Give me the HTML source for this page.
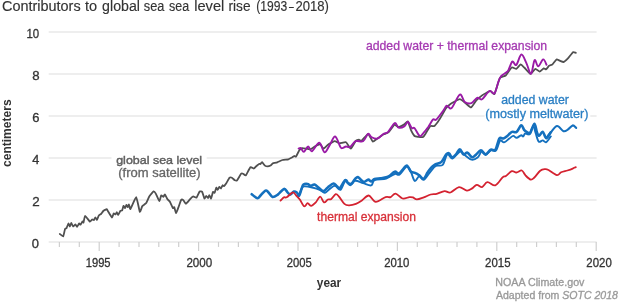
<!DOCTYPE html>
<html><head><meta charset="utf-8"><style>
html,body{margin:0;padding:0;background:#fff;}
svg{display:block;font-family:"Liberation Sans",sans-serif;will-change:transform;}
</style></head><body>
<svg width="620" height="303" viewBox="0 0 620 303">
<line x1="48.7" y1="241.9" x2="596.6" y2="241.9" stroke="#e8e8e8" stroke-width="1.5"/>
<line x1="48.7" y1="199.9" x2="596.6" y2="199.9" stroke="#e8e8e8" stroke-width="1.5"/>
<line x1="48.7" y1="157.9" x2="596.6" y2="157.9" stroke="#e8e8e8" stroke-width="1.5"/>
<line x1="48.7" y1="115.9" x2="596.6" y2="115.9" stroke="#e8e8e8" stroke-width="1.5"/>
<line x1="48.7" y1="73.9" x2="596.6" y2="73.9" stroke="#e8e8e8" stroke-width="1.5"/>
<line x1="48.7" y1="31.9" x2="596.6" y2="31.9" stroke="#e8e8e8" stroke-width="1.5"/>
<line x1="59.4" y1="241.9" x2="59.4" y2="246.9" stroke="#cfcfcf" stroke-width="1.2"/>
<line x1="79.3" y1="241.9" x2="79.3" y2="246.9" stroke="#cfcfcf" stroke-width="1.2"/>
<line x1="99.2" y1="241.9" x2="99.2" y2="250.9" stroke="#cfcfcf" stroke-width="1.2"/>
<line x1="119.1" y1="241.9" x2="119.1" y2="246.9" stroke="#cfcfcf" stroke-width="1.2"/>
<line x1="139.0" y1="241.9" x2="139.0" y2="246.9" stroke="#cfcfcf" stroke-width="1.2"/>
<line x1="158.8" y1="241.9" x2="158.8" y2="246.9" stroke="#cfcfcf" stroke-width="1.2"/>
<line x1="178.7" y1="241.9" x2="178.7" y2="246.9" stroke="#cfcfcf" stroke-width="1.2"/>
<line x1="198.6" y1="241.9" x2="198.6" y2="250.9" stroke="#cfcfcf" stroke-width="1.2"/>
<line x1="218.5" y1="241.9" x2="218.5" y2="246.9" stroke="#cfcfcf" stroke-width="1.2"/>
<line x1="238.4" y1="241.9" x2="238.4" y2="246.9" stroke="#cfcfcf" stroke-width="1.2"/>
<line x1="258.2" y1="241.9" x2="258.2" y2="246.9" stroke="#cfcfcf" stroke-width="1.2"/>
<line x1="278.1" y1="241.9" x2="278.1" y2="246.9" stroke="#cfcfcf" stroke-width="1.2"/>
<line x1="298.0" y1="241.9" x2="298.0" y2="250.9" stroke="#cfcfcf" stroke-width="1.2"/>
<line x1="317.9" y1="241.9" x2="317.9" y2="246.9" stroke="#cfcfcf" stroke-width="1.2"/>
<line x1="337.8" y1="241.9" x2="337.8" y2="246.9" stroke="#cfcfcf" stroke-width="1.2"/>
<line x1="357.6" y1="241.9" x2="357.6" y2="246.9" stroke="#cfcfcf" stroke-width="1.2"/>
<line x1="377.5" y1="241.9" x2="377.5" y2="246.9" stroke="#cfcfcf" stroke-width="1.2"/>
<line x1="397.4" y1="241.9" x2="397.4" y2="250.9" stroke="#cfcfcf" stroke-width="1.2"/>
<line x1="417.3" y1="241.9" x2="417.3" y2="246.9" stroke="#cfcfcf" stroke-width="1.2"/>
<line x1="437.2" y1="241.9" x2="437.2" y2="246.9" stroke="#cfcfcf" stroke-width="1.2"/>
<line x1="457.0" y1="241.9" x2="457.0" y2="246.9" stroke="#cfcfcf" stroke-width="1.2"/>
<line x1="476.9" y1="241.9" x2="476.9" y2="246.9" stroke="#cfcfcf" stroke-width="1.2"/>
<line x1="496.8" y1="241.9" x2="496.8" y2="250.9" stroke="#cfcfcf" stroke-width="1.2"/>
<line x1="516.7" y1="241.9" x2="516.7" y2="246.9" stroke="#cfcfcf" stroke-width="1.2"/>
<line x1="536.6" y1="241.9" x2="536.6" y2="246.9" stroke="#cfcfcf" stroke-width="1.2"/>
<line x1="556.4" y1="241.9" x2="556.4" y2="246.9" stroke="#cfcfcf" stroke-width="1.2"/>
<line x1="576.3" y1="241.9" x2="576.3" y2="246.9" stroke="#cfcfcf" stroke-width="1.2"/>
<line x1="596.2" y1="241.9" x2="596.2" y2="250.9" stroke="#cfcfcf" stroke-width="1.2"/>
<rect x="111.5" y="150" width="95.2" height="30" fill="#fff"/>
<rect x="484.6" y="93" width="105.7" height="28" fill="#fff"/>
<path d="M59.8,233.9C60.1,234.1 62.8,236.7 63.2,236.3C63.6,235.9 64.8,229.5 65.1,228.9C65.4,228.3 66.4,228.4 66.6,228.0C66.8,227.6 68.2,223.6 68.4,223.5C68.6,223.4 69.7,226.5 69.9,226.5C70.1,226.5 71.1,222.9 71.3,222.9C71.5,222.9 72.8,226.4 73.1,226.5C73.4,226.6 75.2,224.4 75.5,224.4C75.8,224.4 76.7,227.0 77.0,226.9C77.3,226.8 78.8,223.7 79.1,223.5C79.4,223.3 80.2,224.9 80.5,224.7C80.8,224.5 82.3,221.6 82.5,221.4C82.7,221.2 83.3,222.9 83.5,222.5C83.7,222.1 84.6,215.9 85.1,215.8C85.6,215.7 89.4,221.4 89.9,221.7C90.4,222.0 91.8,219.6 92.1,219.5C92.4,219.4 93.7,220.2 93.9,220.0C94.1,219.8 95.2,217.3 95.4,217.3C95.6,217.3 96.6,220.1 96.9,220.0C97.2,219.9 98.5,215.9 98.8,215.5C99.1,215.1 100.7,214.3 101.0,214.0C101.3,213.7 102.9,211.4 103.3,211.0C103.7,210.6 106.4,209.1 106.7,209.1C107.0,209.1 107.3,210.2 107.7,210.8C108.1,211.4 111.5,217.3 111.9,217.5C112.4,217.7 113.4,213.7 113.7,213.5C114.0,213.3 115.3,214.5 115.5,214.4C115.7,214.3 116.6,212.1 116.8,212.1C117.0,212.1 117.8,215.1 118.1,215.0C118.4,214.9 120.1,211.2 120.4,210.8C120.7,210.4 122.0,210.7 122.2,210.3C122.4,209.9 123.3,206.1 123.5,205.9C123.7,205.7 124.8,208.2 125.0,208.1C125.2,208.0 126.2,204.9 126.4,204.8C126.6,204.7 127.5,207.2 127.7,207.2C127.9,207.2 128.8,204.4 129.0,204.5C129.2,204.6 129.9,209.5 130.4,209.0C130.9,208.5 135.5,197.0 136.2,197.2C136.9,197.4 139.4,211.0 139.8,211.7C140.2,212.4 141.9,206.8 142.2,206.3C142.5,205.8 143.7,205.1 144.0,204.8C144.3,204.5 146.0,203.3 146.4,202.7C146.8,202.1 148.9,197.1 149.4,196.3C149.9,195.5 153.1,191.6 153.6,191.4C154.1,191.2 155.4,192.9 155.8,193.6C156.2,194.3 159.0,201.1 159.4,201.2C159.8,201.3 160.9,195.7 161.2,195.4C161.5,195.1 163.1,196.9 163.4,196.8C163.7,196.7 164.6,194.3 164.9,194.5C165.2,194.7 167.2,198.9 167.6,199.4C168.0,199.9 169.5,201.0 169.9,201.7C170.3,202.4 172.7,207.7 173.0,208.1C173.3,208.5 174.1,206.8 174.3,207.2C174.5,207.6 175.8,213.2 176.1,213.2C176.4,213.2 178.1,208.2 178.5,207.2C178.9,206.2 180.8,200.4 181.2,199.9C181.6,199.4 182.9,199.8 183.3,200.1C183.7,200.4 185.4,203.9 185.9,203.8C186.4,203.7 189.4,200.0 189.9,199.4C190.4,198.8 192.7,196.5 193.2,196.4C193.7,196.3 196.0,198.1 196.5,197.7C197.0,197.3 199.2,191.9 199.6,191.5C200.0,191.1 201.8,191.4 202.2,191.9C202.6,192.4 204.1,198.2 204.4,198.5C204.7,198.8 205.9,195.9 206.2,195.9C206.5,195.9 207.8,198.2 208.0,198.1C208.2,198.0 209.1,195.1 209.3,195.1C209.5,195.1 210.8,198.7 211.1,198.5C211.4,198.3 212.7,192.3 213.0,191.9C213.3,191.5 214.4,193.1 214.6,192.8C214.8,192.5 216.1,187.8 216.3,187.6C216.5,187.4 217.5,189.9 217.7,189.8C217.9,189.7 219.2,187.0 219.4,186.9C219.6,186.8 220.8,188.6 221.0,188.5C221.2,188.4 222.4,185.5 222.6,185.3C222.8,185.1 223.6,186.4 223.9,186.2C224.2,186.0 225.9,183.8 226.3,183.2C226.7,182.6 229.2,178.1 229.6,177.7C230.0,177.3 231.5,177.5 231.9,177.7C232.3,177.9 234.4,180.1 234.8,180.3C235.2,180.5 236.6,180.8 237.1,180.3C237.6,179.8 240.7,174.2 241.2,173.7C241.7,173.2 242.9,173.7 243.2,173.8C243.5,173.9 245.3,175.9 245.8,175.4C246.3,174.9 249.8,167.8 250.4,167.3C251.0,166.8 253.5,168.6 253.9,168.5C254.3,168.4 255.8,166.5 256.2,166.2C256.6,165.9 258.8,164.1 259.1,163.9C259.4,163.7 260.3,164.1 260.5,164.0C260.7,163.9 261.7,162.0 262.0,162.1C262.3,162.2 264.5,165.3 264.9,165.6C265.3,165.9 267.3,166.4 267.7,166.4C268.1,166.4 270.2,165.7 270.6,165.5C271.0,165.3 272.3,163.6 272.8,163.4C273.3,163.2 276.6,162.6 277.3,162.3C278.0,162.0 281.7,160.2 282.5,160.0C283.3,159.8 287.7,159.5 288.4,159.3C289.1,159.1 291.6,157.7 292.0,157.5C292.4,157.3 293.9,156.1 294.2,156.0C294.5,155.9 295.6,157.0 296.0,156.6C296.4,156.2 298.5,151.6 298.9,151.0C299.3,150.4 300.7,148.8 301.0,148.6C301.3,148.4 301.9,148.1 302.3,148.1C302.7,148.1 305.4,148.5 306.0,148.6C306.6,148.7 310.1,149.3 310.8,149.1C311.5,148.9 314.9,146.4 315.6,146.0C316.3,145.6 319.7,144.2 320.3,144.4C320.9,144.6 322.9,148.6 323.5,148.6C324.1,148.6 326.9,145.5 327.7,144.9C328.5,144.3 333.7,141.3 334.6,141.2C335.5,141.1 338.4,143.2 339.3,143.3C340.2,143.4 345.1,141.9 346.0,142.3C346.9,142.7 350.1,148.7 350.8,148.6C351.5,148.5 355.1,141.6 355.7,140.9C356.3,140.2 358.6,139.6 359.0,139.6C359.4,139.6 360.8,141.3 361.5,140.9C362.2,140.5 367.3,133.8 368.1,133.8C368.9,133.8 372.0,141.1 372.7,141.5C373.4,141.9 376.3,139.2 377.1,138.7C377.9,138.2 382.8,134.8 383.7,134.3C384.6,133.8 387.9,132.8 388.7,132.1C389.5,131.4 393.7,125.1 394.4,124.7C395.1,124.3 397.9,127.2 398.6,127.2C399.3,127.2 403.6,124.8 404.3,124.4C405.0,124.0 407.4,121.0 407.9,121.5C408.4,122.0 410.7,129.6 411.2,130.7C411.7,131.8 414.0,135.5 414.5,136.0C415.0,136.5 417.9,136.8 418.5,136.9C419.1,137.0 422.6,137.2 423.1,136.9C423.6,136.6 425.2,134.2 425.7,133.4C426.2,132.6 429.7,126.6 430.3,126.1C430.9,125.6 433.8,126.4 434.3,126.1C434.8,125.8 437.0,123.0 437.6,122.2C438.2,121.4 441.6,116.0 442.2,114.9C442.8,113.8 445.6,108.8 446.2,108.0C446.8,107.2 449.8,104.4 450.8,103.7C451.8,103.0 458.7,99.2 459.8,99.2C460.9,99.2 464.8,102.6 465.6,103.2C466.4,103.8 470.2,107.6 471.0,107.4C471.8,107.2 475.5,101.3 476.3,100.4C477.1,99.5 481.4,96.0 482.1,95.4C482.8,94.8 485.6,93.3 486.2,93.0C486.8,92.7 489.7,90.9 490.3,91.0C490.9,91.1 493.8,94.9 494.5,93.9C495.2,92.9 499.0,79.5 499.8,78.1C500.6,76.7 504.8,76.3 505.7,75.5C506.6,74.7 510.9,68.0 511.7,67.5C512.5,67.0 515.6,69.1 516.3,68.9C517.0,68.7 520.0,64.5 520.6,64.4C521.2,64.3 524.0,67.3 524.7,68.0C525.4,68.7 529.7,73.7 530.5,73.8C531.3,73.9 534.7,69.0 535.4,68.8C536.1,68.6 539.0,71.6 539.6,71.6C540.2,71.6 543.2,68.6 543.7,68.4C544.2,68.2 545.8,69.5 546.2,69.3C546.6,69.1 548.7,66.0 549.2,65.6C549.7,65.2 552.0,64.8 552.5,64.3C553.0,63.8 556.0,59.7 556.5,59.4C557.0,59.1 559.3,60.5 559.8,60.7C560.3,60.9 563.1,62.1 563.7,62.0C564.3,61.9 567.0,59.4 567.7,58.7C568.4,58.0 572.4,52.6 573.0,52.2C573.6,51.8 575.7,52.8 575.9,52.8" fill="none" stroke="#505050" stroke-width="1.8" stroke-linejoin="round" stroke-linecap="round"/>
<path d="M299.0,195.8C299.4,194.7 300.6,190.6 301.5,189.0C302.4,187.4 302.3,186.7 304.1,186.4C305.9,186.2 309.6,186.9 312.2,187.5C314.8,188.1 317.6,188.9 319.7,189.8C321.8,190.7 323.1,193.0 324.9,192.7C326.7,192.4 328.9,189.2 330.6,188.1C332.3,186.9 333.7,185.5 335.3,185.8C336.9,186.1 338.9,190.5 340.5,189.8C342.1,189.1 343.6,182.1 345.2,181.4C346.8,180.7 348.8,185.5 350.4,185.4C352.0,185.3 352.9,181.2 355.0,180.8C357.1,180.4 360.4,182.3 363.1,183.1C365.8,183.9 369.3,185.9 371.2,185.4C373.1,184.9 372.1,181.3 374.6,180.2C377.1,179.0 382.8,179.5 386.2,178.5C389.6,177.5 392.6,174.7 394.8,174.0C397.0,173.3 397.4,175.8 399.4,174.6C401.4,173.3 405.0,166.9 406.9,166.5C408.8,166.1 409.7,169.9 411.0,172.3C412.3,174.7 413.4,180.3 414.8,181.0C416.2,181.7 417.6,176.6 419.1,176.4C420.6,176.2 421.9,180.5 423.7,179.8C425.5,179.1 428.0,174.6 430.0,172.3C432.0,170.0 433.7,167.2 435.8,166.0C437.9,164.8 440.8,166.7 442.7,164.8C444.6,162.9 445.7,155.5 447.3,154.4C448.9,153.3 450.4,159.0 452.5,158.5C454.6,158.0 458.0,152.1 460.0,151.5C462.0,150.9 462.7,153.7 464.6,155.0C466.5,156.3 469.4,159.2 471.6,159.6C473.8,160.0 475.9,158.9 477.6,157.6C479.3,156.3 480.3,152.1 481.6,151.7C482.9,151.3 484.1,155.2 485.6,155.0C487.1,154.8 489.1,151.2 490.8,150.4C492.6,149.6 494.6,152.1 496.1,150.4C497.7,148.8 498.8,141.8 500.1,140.5C501.4,139.2 502.5,142.7 504.0,142.4C505.5,142.1 507.8,139.6 509.3,138.5C510.9,137.4 512.1,136.0 513.3,135.9C514.5,135.8 515.3,137.9 516.6,137.8C517.9,137.7 520.1,135.4 521.2,135.2C522.3,135.0 522.5,136.8 523.2,136.5C523.9,136.2 524.2,133.9 525.2,133.5C526.2,133.1 527.9,135.3 529.2,134.1C530.6,132.9 532.2,126.7 533.3,126.5C534.4,126.3 534.7,130.4 535.6,132.9C536.5,135.4 537.5,140.3 538.7,141.6C539.9,142.8 541.5,140.3 542.7,140.4C544.0,140.5 544.9,142.8 546.2,142.1C547.6,141.4 550.0,137.3 550.8,136.4" fill="none" stroke="#1470be" stroke-width="1.9" stroke-linejoin="round" stroke-linecap="round"/>
<path d="M251.7,194.2C252.6,194.9 255.9,198.0 257.4,198.2C258.9,198.4 259.2,196.8 260.5,195.5C261.8,194.2 264.1,191.2 265.4,190.6C266.7,190.0 266.9,190.9 268.1,192.0C269.3,193.1 270.9,196.5 272.5,196.9C274.1,197.3 275.9,195.9 277.8,194.6C279.7,193.3 282.4,189.3 284.0,188.9C285.6,188.5 286.6,191.5 287.6,192.4C288.7,193.3 289.3,194.8 290.3,194.6C291.3,194.4 292.7,191.8 293.8,191.5C294.9,191.2 295.9,191.8 296.8,192.5C297.7,193.2 298.2,196.4 299.0,195.8C299.8,195.2 300.8,190.9 301.5,189.0C302.2,187.1 302.5,185.4 303.5,184.6C304.5,183.8 306.2,183.8 307.5,184.0C308.8,184.2 309.8,185.7 311.0,185.8C312.2,185.9 313.1,184.2 314.5,184.6C315.9,185.0 317.6,187.0 319.1,188.1C320.6,189.2 322.2,191.2 323.7,191.0C325.2,190.8 326.7,188.2 328.3,186.9C329.9,185.7 332.1,183.6 333.5,183.5C334.9,183.4 335.9,185.6 337.0,186.4C338.1,187.2 338.5,189.1 339.9,188.1C341.3,187.1 343.8,181.0 345.2,180.2C346.6,179.4 347.1,182.5 348.1,183.1C349.2,183.7 350.4,184.4 351.5,183.7C352.6,183.0 353.9,180.2 355.0,179.1C356.1,178.0 356.8,176.9 357.9,177.1C359.0,177.3 360.3,179.4 361.4,180.2C362.4,181.0 363.0,182.0 364.2,181.9C365.4,181.8 367.1,179.7 368.3,179.6C369.5,179.5 370.1,181.5 371.2,181.4C372.2,181.3 373.1,179.6 374.6,179.1C376.1,178.6 378.5,178.5 380.4,178.2C382.3,177.9 384.7,177.7 386.2,177.3C387.7,176.9 388.2,176.7 389.6,175.8C391.0,174.9 393.2,172.1 394.8,171.7C396.4,171.3 397.5,173.9 398.9,173.5C400.2,173.1 401.6,170.7 402.9,169.4C404.2,168.1 405.5,165.2 406.9,165.6C408.2,166.0 409.6,170.5 411.0,171.7C412.4,172.9 413.6,172.3 415.0,172.9C416.4,173.5 417.7,174.2 419.1,175.2C420.6,176.2 422.3,179.2 423.7,178.7C425.1,178.2 426.4,174.1 427.7,172.3C428.9,170.5 430.0,168.9 431.2,167.7C432.4,166.4 432.9,165.8 434.6,164.8C436.3,163.8 439.6,163.6 441.5,161.9C443.4,160.2 444.9,155.8 446.2,154.4C447.5,153.0 448.2,152.8 449.1,153.3C450.1,153.8 450.8,157.1 451.9,157.3C453.0,157.5 454.7,155.8 456.0,154.4C457.3,153.1 458.6,149.2 459.8,149.2C461.1,149.2 462.2,153.8 463.5,154.4C464.8,155.0 466.1,152.2 467.5,152.7C468.9,153.2 470.7,157.0 472.1,157.3C473.6,157.6 474.7,155.6 476.2,154.4C477.7,153.2 479.3,150.4 480.9,150.4C482.5,150.4 484.0,154.4 485.6,154.3C487.2,154.2 489.2,150.5 490.8,149.7C492.4,148.9 494.0,151.6 495.4,149.7C496.8,147.8 498.1,140.4 499.4,138.5C500.7,136.6 502.1,138.9 503.4,138.5C504.7,138.1 505.9,137.0 507.3,135.9C508.7,134.8 510.3,132.6 511.9,131.9C513.4,131.2 515.0,133.0 516.6,131.9C518.2,130.8 520.0,125.6 521.2,125.3C522.5,125.0 523.1,128.6 524.1,129.8C525.1,131.0 526.5,131.7 527.5,132.3C528.5,132.9 528.9,134.9 530.0,133.5C531.1,132.1 533.2,123.9 534.4,123.7C535.5,123.5 536.1,130.3 536.9,132.3C537.7,134.3 538.2,135.9 539.2,135.8C540.2,135.7 541.5,131.3 542.7,131.7C543.9,132.1 544.9,138.0 546.2,138.1C547.6,138.2 550.0,133.3 550.8,132.3" fill="none" stroke="#1470be" stroke-width="2.6" stroke-linejoin="round" stroke-linecap="round"/>
<path d="M546.2,138.1C547.0,137.1 549.0,134.3 550.8,132.3C552.6,130.3 555.0,126.2 557.1,126.0C559.2,125.8 561.7,130.6 563.5,131.2C565.3,131.8 566.6,130.4 568.1,129.4C569.6,128.4 571.4,125.7 572.7,125.4C574.1,125.2 575.6,127.5 576.2,127.9" fill="none" stroke="#1470be" stroke-width="2.1" stroke-linejoin="round" stroke-linecap="round"/>
<path d="M280.5,200.6C281.1,200.1 283.0,197.9 284.0,197.3C285.0,196.8 285.2,198.1 286.7,197.3C288.2,196.5 291.3,192.6 292.9,192.4C294.5,192.2 295.4,194.8 296.5,196.0C297.6,197.2 298.5,197.8 299.8,199.5C301.1,201.2 302.9,205.7 304.2,206.3C305.5,206.9 306.5,203.3 307.6,203.2C308.7,203.1 309.6,205.9 311.0,205.8C312.4,205.7 314.3,203.9 315.8,202.4C317.3,200.9 318.8,196.6 320.2,196.6C321.6,196.6 322.7,201.9 324.0,202.4C325.3,202.9 326.7,200.1 327.9,199.5C329.1,198.9 330.0,199.9 331.3,199.0C332.6,198.1 334.4,194.6 335.7,194.2C337.0,193.8 337.6,195.0 339.0,196.6C340.4,198.2 342.7,202.4 344.4,203.9C346.1,205.4 347.3,205.3 349.2,205.3C351.1,205.3 353.8,204.7 355.9,203.9C358.0,203.1 359.8,201.9 361.9,200.5C364.0,199.1 366.5,195.3 368.8,195.5C371.1,195.7 372.9,201.6 375.7,201.9C378.5,202.2 383.1,197.9 385.6,197.1C388.1,196.3 389.0,197.7 390.6,197.1C392.2,196.5 393.5,193.4 395.5,193.6C397.5,193.8 400.2,197.9 402.5,198.5C404.8,199.1 407.7,197.3 409.4,197.1C411.1,196.9 411.6,197.0 412.9,197.4C414.1,197.8 415.1,199.4 416.9,199.4C418.7,199.4 421.5,198.2 423.8,197.4C426.1,196.6 428.6,195.1 430.7,194.5C432.8,193.9 434.4,194.5 436.7,193.9C439.0,193.3 442.3,191.3 444.6,191.1C446.9,190.9 448.1,193.2 450.5,192.5C452.9,191.8 456.3,187.4 459.0,187.1C461.7,186.8 464.7,190.4 466.9,190.6C469.1,190.8 470.5,189.4 472.2,188.4C473.9,187.4 475.1,185.0 476.8,184.8C478.5,184.6 480.3,187.5 482.1,187.1C483.9,186.7 485.2,182.5 487.4,182.2C489.6,181.9 492.8,186.2 495.3,185.4C497.8,184.6 500.8,179.0 502.6,177.4C504.4,175.8 504.4,176.9 505.9,175.9C507.4,174.9 510.1,171.8 511.8,171.2C513.5,170.6 514.7,172.6 516.4,172.5C518.1,172.4 520.3,170.0 521.8,170.5C523.3,171.0 524.0,173.9 525.5,175.4C527.0,176.9 529.2,179.2 530.7,179.6C532.2,179.9 532.8,179.0 534.4,177.5C536.0,176.0 538.5,172.1 540.2,170.7C542.0,169.3 543.5,169.3 544.9,169.2C546.3,169.1 546.5,169.0 548.5,170.0C550.5,171.0 554.8,174.7 556.9,175.1C559.0,175.5 559.4,173.1 561.1,172.3C562.9,171.5 565.5,171.1 567.4,170.5C569.3,169.9 571.3,169.2 572.7,168.6C574.1,168.0 575.3,167.3 575.8,167.1" fill="none" stroke="#d42230" stroke-width="1.8" stroke-linejoin="round" stroke-linecap="round"/>
<path d="M298.6,148.6C299.0,148.5 299.9,147.6 300.8,148.1C301.7,148.6 302.7,152.1 303.9,151.8C305.1,151.5 306.9,146.6 308.2,146.5C309.5,146.4 310.0,151.9 311.9,151.3C313.8,150.7 317.2,142.6 319.3,142.8C321.4,143.0 322.8,152.0 324.5,152.3C326.2,152.7 328.0,147.5 329.8,144.9C331.6,142.3 333.3,136.2 335.1,136.5C336.9,136.8 339.2,145.1 340.4,147.0C341.6,148.9 341.6,148.2 342.5,148.1C343.4,148.0 344.8,146.7 346.0,146.5C347.2,146.3 348.4,147.9 350.0,147.0C351.6,146.1 353.5,142.2 355.7,141.2C357.9,140.2 361.0,142.4 363.1,141.2C365.2,140.0 366.7,134.5 368.1,133.8C369.5,133.1 369.9,136.3 371.4,137.1C372.9,137.9 375.1,139.2 377.1,138.7C379.2,138.1 381.9,134.9 383.7,133.8C385.5,132.7 386.0,133.9 387.9,132.1C389.8,130.3 393.0,123.8 394.8,123.1C396.6,122.4 397.0,127.2 398.6,127.7C400.2,128.2 403.1,127.1 404.6,126.1C406.2,125.1 406.7,121.6 407.9,121.9C409.1,122.2 410.8,127.1 411.9,128.1C413.0,129.1 413.2,126.8 414.5,128.1C415.8,129.4 418.3,135.2 419.8,136.0C421.3,136.8 422.3,134.2 423.7,132.7C425.1,131.2 426.8,129.0 428.4,126.8C429.9,124.6 431.7,120.7 433.0,119.5C434.3,118.3 434.6,121.0 436.3,119.5C438.1,118.0 441.8,112.6 443.5,110.3C445.2,108.0 445.4,106.1 446.8,105.7C448.2,105.3 449.4,109.9 451.6,108.1C453.8,106.2 457.6,95.6 459.8,94.6C462.0,93.6 462.9,100.6 464.8,102.0C466.7,103.4 469.3,103.9 471.4,103.2C473.4,102.5 475.3,98.6 477.1,97.9C478.9,97.2 480.0,100.4 482.1,99.2C484.2,98.0 487.4,92.0 489.5,91.0C491.6,90.0 493.0,94.9 494.5,93.3C496.0,91.7 497.4,84.3 498.5,81.4C499.6,78.5 499.9,77.5 501.1,76.1C502.3,74.7 504.5,73.8 505.7,72.8C506.9,71.8 507.3,72.1 508.4,70.2C509.5,68.3 511.0,62.5 512.3,61.6C513.6,60.7 514.8,66.1 516.3,64.9C517.8,63.7 519.7,54.8 521.4,54.5C523.1,54.2 524.8,59.9 526.4,63.1C528.0,66.3 529.6,74.3 531.0,73.8C532.4,73.3 533.4,61.3 534.6,60.1C535.8,58.9 536.8,66.5 538.2,66.4C539.6,66.3 541.8,59.7 543.2,59.4C544.6,59.1 546.0,63.8 546.5,64.7" fill="none" stroke="#9a1aa6" stroke-width="1.9" stroke-linejoin="round" stroke-linecap="round"/>
<text x="1.97" y="11.2" font-size="14" fill="#333" stroke="#333" stroke-width="0.15" textLength="78.66" lengthAdjust="spacingAndGlyphs">Contributors</text>
<text x="85.08" y="11.2" font-size="14" fill="#333" stroke="#333" stroke-width="0.15" textLength="12.13" lengthAdjust="spacingAndGlyphs">to</text>
<text x="102.10" y="11.2" font-size="14" fill="#333" stroke="#333" stroke-width="0.15" textLength="37.84" lengthAdjust="spacingAndGlyphs">global</text>
<text x="143.85" y="11.2" font-size="14" fill="#333" stroke="#333" stroke-width="0.15" textLength="20.55" lengthAdjust="spacingAndGlyphs">sea</text>
<text x="169.05" y="11.2" font-size="14" fill="#333" stroke="#333" stroke-width="0.15" textLength="20.15" lengthAdjust="spacingAndGlyphs">sea</text>
<text x="194.22" y="11.2" font-size="14" fill="#333" stroke="#333" stroke-width="0.15" textLength="30.06" lengthAdjust="spacingAndGlyphs">level</text>
<text x="228.49" y="11.2" font-size="14" fill="#333" stroke="#333" stroke-width="0.15" textLength="22.01" lengthAdjust="spacingAndGlyphs">rise</text>
<text x="256.25" y="11.2" font-size="14" fill="#333" stroke="#333" stroke-width="0.15" textLength="30.88" lengthAdjust="spacingAndGlyphs">(1993</text>
<text x="288.90" y="11.2" font-size="14" fill="#333" stroke="#333" stroke-width="0.15" textLength="4.80" lengthAdjust="spacingAndGlyphs">–</text>
<text x="295.44" y="11.2" font-size="14" fill="#333" stroke="#333" stroke-width="0.15" textLength="33.47" lengthAdjust="spacingAndGlyphs">2018)</text>
<text x="31.89" y="247.8" font-size="12" fill="#333" stroke="#333" stroke-width="0.3" textLength="7.21" lengthAdjust="spacingAndGlyphs">0</text>
<text x="32.23" y="205.8" font-size="12" fill="#333" stroke="#333" stroke-width="0.3" textLength="7.45" lengthAdjust="spacingAndGlyphs">2</text>
<text x="32.31" y="163.8" font-size="12" fill="#333" stroke="#333" stroke-width="0.3" textLength="7.06" lengthAdjust="spacingAndGlyphs">4</text>
<text x="32.34" y="121.8" font-size="12" fill="#333" stroke="#333" stroke-width="0.3" textLength="7.23" lengthAdjust="spacingAndGlyphs">6</text>
<text x="32.33" y="79.8" font-size="12" fill="#333" stroke="#333" stroke-width="0.3" textLength="7.35" lengthAdjust="spacingAndGlyphs">8</text>
<text x="26.53" y="37.8" font-size="12" fill="#333" stroke="#333" stroke-width="0.3" textLength="12.72" lengthAdjust="spacingAndGlyphs">10</text>
<text x="85.75" y="267.1" font-size="12" fill="#333" stroke="#333" stroke-width="0.3" textLength="24.82" lengthAdjust="spacingAndGlyphs">1995</text>
<text x="186.42" y="267.1" font-size="12" fill="#333" stroke="#333" stroke-width="0.3" textLength="25.84" lengthAdjust="spacingAndGlyphs">2000</text>
<text x="286.83" y="267.1" font-size="12" fill="#333" stroke="#333" stroke-width="0.3" textLength="25.04" lengthAdjust="spacingAndGlyphs">2005</text>
<text x="384.13" y="267.1" font-size="12" fill="#333" stroke="#333" stroke-width="0.3" textLength="25.32" lengthAdjust="spacingAndGlyphs">2010</text>
<text x="485.12" y="267.1" font-size="12" fill="#333" stroke="#333" stroke-width="0.3" textLength="25.46" lengthAdjust="spacingAndGlyphs">2015</text>
<text x="586.33" y="267.1" font-size="12" fill="#333" stroke="#333" stroke-width="0.3" textLength="25.42" lengthAdjust="spacingAndGlyphs">2020</text>
<text x="316.81" y="286.5" font-size="12.5" fill="#333" stroke="#333" stroke-width="0" font-weight="bold" textLength="24.37" lengthAdjust="spacingAndGlyphs">year</text>
<text transform="translate(10.9,166.5) rotate(-90)" x="-0.47" y="0" font-size="12.5" font-weight="bold" fill="#333" textLength="67.56" lengthAdjust="spacingAndGlyphs">centimeters</text>
<text x="116.18" y="163.5" font-size="11.8" fill="#5e5e5e" stroke="#5e5e5e" stroke-width="0.42" textLength="85.96" lengthAdjust="spacingAndGlyphs">global sea level</text>
<text x="118.29" y="176.6" font-size="12.3" fill="#666" stroke="#666" stroke-width="0.3" textLength="82.31" lengthAdjust="spacingAndGlyphs">(from satellite)</text>
<text x="365.98" y="50.3" font-size="12.3" fill="#a53ab2" stroke="#a53ab2" stroke-width="0.3" textLength="181.11" lengthAdjust="spacingAndGlyphs">added water + thermal expansion</text>
<text x="501.18" y="103.8" font-size="12.3" fill="#2a7fc4" stroke="#2a7fc4" stroke-width="0.3" textLength="67.73" lengthAdjust="spacingAndGlyphs">added water</text>
<text x="485.22" y="117.9" font-size="12.3" fill="#2a7fc4" stroke="#2a7fc4" stroke-width="0.3" textLength="103.27" lengthAdjust="spacingAndGlyphs">(mostly meltwater)</text>
<text x="317.12" y="221.0" font-size="12.3" fill="#d8313a" stroke="#d8313a" stroke-width="0.3" textLength="98.87" lengthAdjust="spacingAndGlyphs">thermal expansion</text>
<text x="495.33" y="285.9" font-size="10.2" fill="#999" stroke="#999" stroke-width="0.3" textLength="89.11" lengthAdjust="spacingAndGlyphs">NOAA Climate.gov</text>
<text x="495.98" y="299.0" font-size="10.2" fill="#999" stroke="#999" stroke-width="0.3" textLength="63.34" lengthAdjust="spacingAndGlyphs">Adapted from</text>
<text x="562.25" y="299.0" font-size="10.2" fill="#999" stroke="#999" stroke-width="0.3" font-style="italic" textLength="55.71" lengthAdjust="spacingAndGlyphs">SOTC 2018</text>
</svg>
</body></html>
